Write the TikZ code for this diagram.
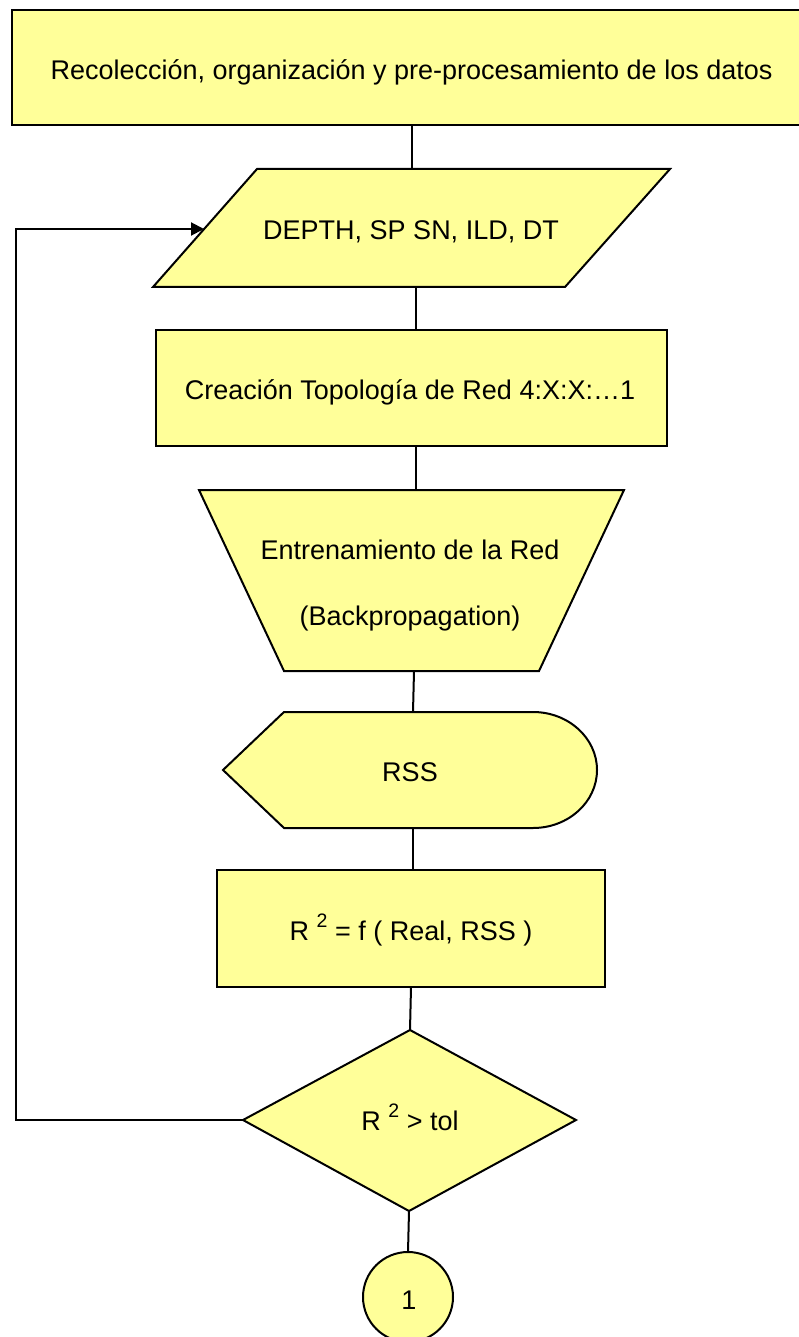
\documentclass[tikz,border=0pt]{standalone}
\usepackage{fontspec}
\setmainfont{Liberation Sans}
\usetikzlibrary{arrows.meta}
\definecolor{boxfill}{RGB}{255,255,153}
\begin{document}
\begin{tikzpicture}[x=1pt,y=-1pt,
  shapebox/.style={draw=black, fill=boxfill, line width=2pt, line join=miter},
  link/.style={draw=black, line width=2pt},
  lbl/.style={font=\fontsize{27}{32}\selectfont, inner sep=0pt, anchor=base},
  sq/.style={font=\fontsize{19.5}{20}\selectfont}]
\useasboundingbox (0,0) rectangle (799,1337);
\clip (0,0) rectangle (799,1337);

% data collection
\draw[shapebox] (12,10) rectangle (815,125);
\node[lbl] (collect) at (411.5,80) {Recolección, organización y pre-procesamiento de los datos};
\coordinate (collectS) at (412,125);

% input variables (parallelogram)
\draw[shapebox] (257,169) -- (670,169) -- (565,287) -- (153,287) -- cycle;
\node[lbl] (inputs) at (411,240) {DEPTH, SP SN, ILD, DT};
\coordinate (inputsN) at (412,169);
\coordinate (inputsS) at (416,287);
\coordinate (inputsW) at (204,229);

% topology
\draw[shapebox] (156,330) rectangle (667,446);
\node[lbl] (topo) at (410,399) {Creación Topología de Red 4:X:X:…1};
\coordinate (topoN) at (416,330);
\coordinate (topoS) at (416,446);

% training (trapezoid)
\draw[shapebox] (199,490) -- (624,490) -- (539,671) -- (284,671) -- cycle;
\node[lbl] (train1) at (410,559) {Entrenamiento de la Red};
\node[lbl] (train2) at (410,625) {(Backpropagation)};
\coordinate (trainN) at (416,490);
\coordinate (trainS) at (414,671);

% output (display)
\draw[shapebox] (223,770) -- (284,712) -- (533,712)
  arc[start angle=90, end angle=-90, x radius=64, y radius=-58]
  -- (284,828) -- cycle;
\node[lbl] (rss) at (410,781.5) {RSS};
\coordinate (rssN) at (413,712);
\coordinate (rssS) at (413,828);

% fit measure
\draw[shapebox] (217,870) rectangle (605,987);
\node[lbl] (fit) at (411,940) {R \raisebox{13pt}{\fontsize{19.5}{20}\selectfont 2} = f ( Real, RSS )};
\coordinate (fitN) at (413,870);
\coordinate (fitS) at (411,987);

% decision
\draw[shapebox] (410,1030) -- (576,1120) -- (409,1211) -- (243,1120) -- cycle;
\node[lbl] (test) at (410,1130.5) {R \raisebox{13pt}{\fontsize{19.5}{20}\selectfont 2} > tol};
\coordinate (testN) at (410,1030);
\coordinate (testS) at (409,1211);
\coordinate (testW) at (243,1120);

% connector
\draw[shapebox] (408,1297) circle[radius=45];
\node[lbl] (conn) at (409,1309) {1};
\coordinate (connN) at (408,1252);

% links
\draw[link] (collectS) -- (inputsN);
\draw[link] (inputsS) -- (topoN);
\draw[link] (topoS) -- (trainN);
\draw[link] (trainS) -- (rssN);
\draw[link] (rssS) -- (fitN);
\draw[link] (fitS) -- (testN);
\draw[link] (testS) -- (connN);
\coordinate (loopB) at (16,1120);
\coordinate (loopT) at (16,229);
\draw[link, -{Triangle[length=13pt,width=13pt]}] (testW) -- (loopB) -- (loopT) -- (inputsW);
\end{tikzpicture}
\end{document}
